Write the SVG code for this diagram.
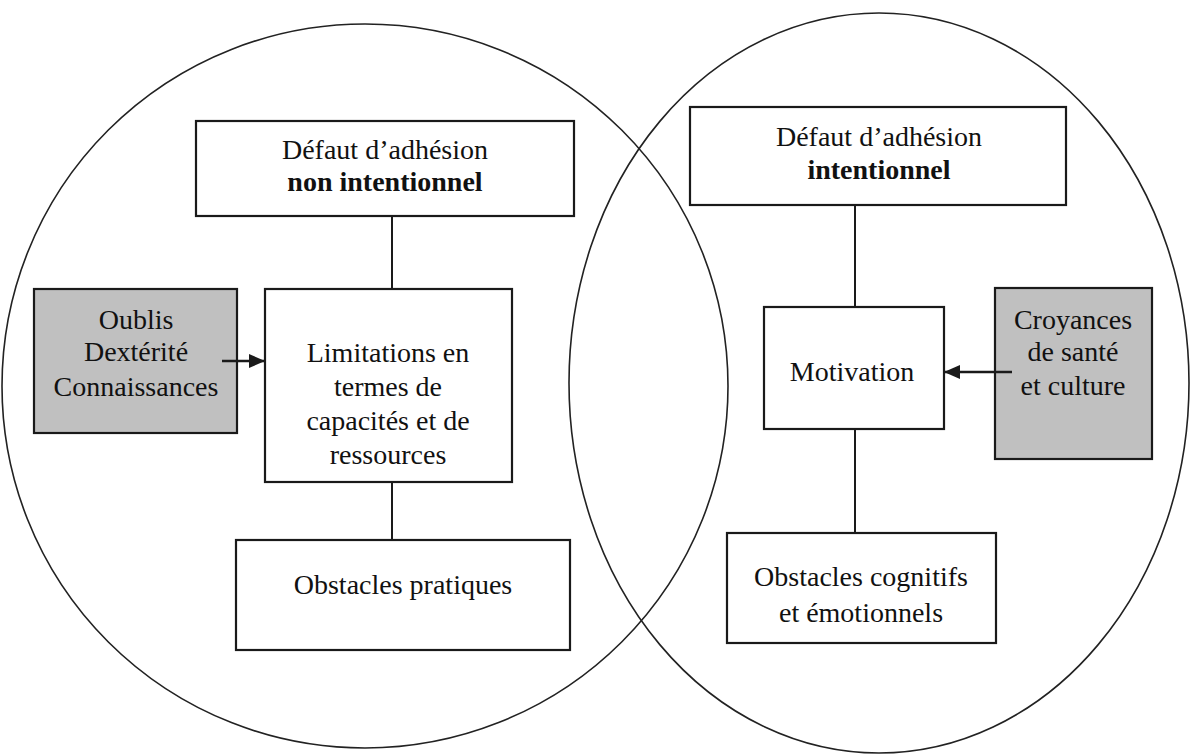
<svg xmlns="http://www.w3.org/2000/svg" width="1192" height="756" viewBox="0 0 1192 756">
  <style>
    .ring { fill: none; stroke: #222; stroke-width: 1.6; }
    .box { fill: #fff; stroke: #1a1a1a; stroke-width: 2.2; }
    .grey { fill: #c0c0c0; stroke: #1a1a1a; stroke-width: 2.2; }
    .link { stroke: #1a1a1a; stroke-width: 2; fill: none; }
    .arrow { stroke: #1a1a1a; stroke-width: 2.5; fill: none; }
    text { font-family: "Liberation Serif", "Times New Roman", serif; font-size: 28px; fill: #111; text-anchor: middle; }
    .b { font-weight: bold; }
  </style>
  <defs>
    <marker id="head" viewBox="0 0 16 14" refX="16" refY="7" markerWidth="16" markerHeight="14" markerUnits="userSpaceOnUse" orient="auto">
      <path d="M0,0 L16,7 L0,14 z" fill="#1a1a1a"/>
    </marker>
  </defs>
  <rect width="1192" height="756" fill="#fff"/>
  <g id="circles">
    <ellipse class="ring" cx="365" cy="386" rx="363" ry="362"/>
    <ellipse class="ring" cx="879" cy="383" rx="310" ry="370"/>
  </g>
  <g id="defaut-non-intentionnel">
    <rect class="box" x="196" y="121" width="378" height="95"/>
    <text x="385" y="159">Défaut d’adhésion</text>
    <text class="b" x="385" y="191">non intentionnel</text>
  </g>
  <g id="oublis">
    <rect class="grey" x="34" y="289" width="203" height="144"/>
    <text x="136" y="329">Oublis</text>
    <text x="136" y="361">Dextérité</text>
    <text x="136" y="396">Connaissances</text>
  </g>
  <g id="limitations">
    <rect class="box" x="265" y="289" width="247" height="193"/>
    <text x="388" y="362">Limitations en</text>
    <text x="388" y="396">termes de</text>
    <text x="388" y="430">capacités et de</text>
    <text x="388" y="464">ressources</text>
  </g>
  <g id="obstacles-pratiques">
    <rect class="box" x="236" y="540" width="334" height="110"/>
    <text x="403" y="594">Obstacles pratiques</text>
  </g>
  <g id="defaut-intentionnel">
    <rect class="box" x="690" y="107" width="376" height="98"/>
    <text x="879" y="146">Défaut d’adhésion</text>
    <text class="b" x="879" y="179">intentionnel</text>
  </g>
  <g id="motivation">
    <rect class="box" x="764" y="307" width="180" height="122"/>
    <text x="852" y="381">Motivation</text>
  </g>
  <g id="croyances">
    <rect class="grey" x="995" y="288" width="157" height="171"/>
    <text x="1073" y="329">Croyances</text>
    <text x="1073" y="361">de santé</text>
    <text x="1073" y="395">et culture</text>
  </g>
  <g id="obstacles-cognitifs">
    <rect class="box" x="727" y="533" width="269" height="110"/>
    <text x="861" y="586">Obstacles cognitifs</text>
    <text x="861" y="622">et émotionnels</text>
  </g>
  <g id="connectors">
    <line class="link" x1="392" y1="216" x2="392" y2="289"/>
    <line class="link" x1="392" y1="482" x2="392" y2="540"/>
    <line class="link" x1="855" y1="205" x2="855" y2="307"/>
    <line class="link" x1="855" y1="429" x2="855" y2="533"/>
    <line class="arrow" x1="222" y1="361" x2="265" y2="361" marker-end="url(#head)"/>
    <line class="arrow" x1="1012" y1="372" x2="944" y2="372" marker-end="url(#head)"/>
  </g>
</svg>
